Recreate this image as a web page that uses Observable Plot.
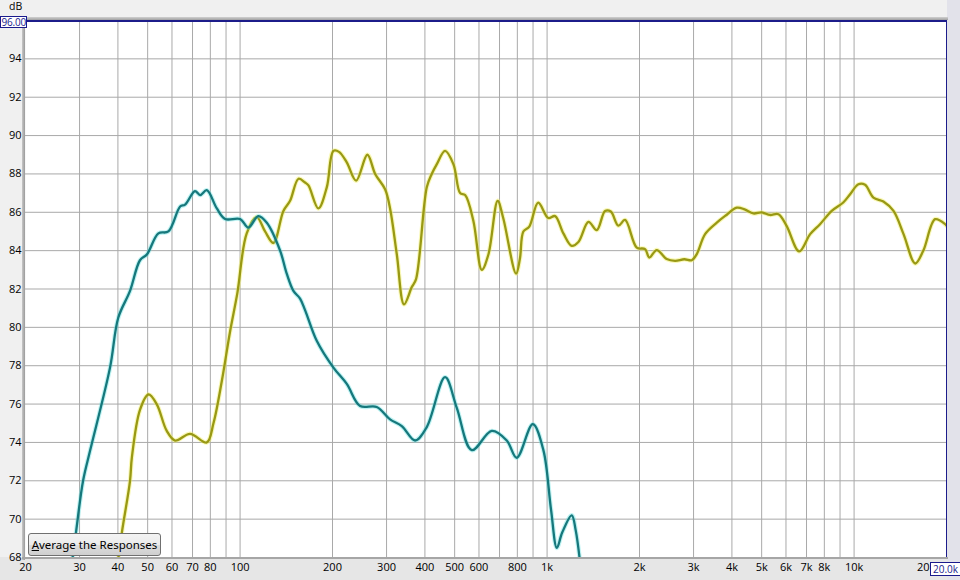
<!DOCTYPE html>
<html>
<head>
<meta charset="utf-8">
<script src="https://cdn.jsdelivr.net/npm/d3@7"></script>
<script src="https://cdn.jsdelivr.net/npm/@observablehq/plot@0.6"></script>
<style>
  html, body { margin: 0; padding: 0; background: #f0f0f0; }
  #wrap { position: relative; width: 960px; height: 580px; overflow: hidden; background: #f0f0f0; font-family: "Open Sans", sans-serif; }
  #wrap svg { position: absolute; left: 0; top: 0; }
  .deco { position: absolute; pointer-events: none; }
  #btn { position: absolute; left: 28px; top: 533px; width: 131px; height: 21px; border: 1px solid #707070; border-radius: 3px;
         background: linear-gradient(#f3f3f3 0%, #ebebeb 50%, #dddddd 51%, #cfcfcf 100%);
         font: 11.5px "Noto Sans", sans-serif; color: #000; text-align: center; line-height: 21px; box-sizing: content-box; }
  .box { position: absolute; background: #fff; border: 1px solid #1a1a8c; color: #1a1a8c; font: 10px "Open Sans", sans-serif; overflow: hidden; white-space: nowrap; }
</style>
</head>
<body>
<div id="wrap"></div>
<script>
// ---- data ----
const xTicks = [20, 30, 40, 50, 60, 70, 80, 100, 200, 300, 400, 500, 600, 800, 1000, 2000, 3000, 4000, 5000, 6000, 7000, 8000, 10000];
const xTickLabels = ["20", "30", "40", "50", "60", "70", "80", "100", "200", "300", "400", "500", "600", "800", "1k", "2k", "3k", "4k", "5k", "6k", "7k", "8k", "10k"];
const xEndTick = [20000];
const xEndLabel = ["20"];
const xGrid = [30, 40, 50, 60, 70, 80, 90, 100, 200, 300, 400, 500, 600, 700, 800, 900, 1000, 2000, 3000, 4000, 5000, 6000, 7000, 8000, 9000, 10000];
const yTicks = [68, 70, 72, 74, 76, 78, 80, 82, 84, 86, 88, 90, 92, 94];
const yGrid = [70, 72, 74, 76, 78, 80, 82, 84, 86, 88, 90, 92, 94];

// teal response (low-frequency)
const tealFreq = [28.2, 29.2, 30.8, 32.5, 37.7, 40.1, 43.8, 47.2, 49.7, 54.2, 58.4, 63.8, 66.2, 71.3, 74.1, 77.9, 84.0, 89.4, 100, 106.4, 114.7, 122.2, 135, 141.9, 149.2, 156.8, 162.8, 177.7, 201.4, 222.6, 246, 278.6, 308, 336.3, 371.5, 405.6, 465.4, 508, 568.5, 660.4, 739, 796.4, 898.4, 972.6, 1030, 1076, 1120, 1203, 1240, 1290];
const tealDb   = [67.5, 69.3, 72.0, 73.6, 77.9, 80.5, 81.9, 83.5, 83.8, 84.9, 85.0, 86.3, 86.4, 87.1, 86.9, 87.15, 86.2, 85.65, 85.65, 85.2, 85.8, 85.45, 84.0, 82.8, 81.9, 81.5, 80.9, 79.3, 77.9, 77.05, 75.9, 75.85, 75.2, 74.85, 74.1, 74.8, 77.4, 75.8, 73.6, 74.6, 74.1, 73.2, 74.95, 73.6, 70.5, 68.5, 69.3, 70.2, 69.4, 67.3];

// olive response (full range)
const oliveFreq = [39.8, 41.2, 43.8, 44.4, 47.2, 50.3, 53.5, 57.7, 61.4, 68.7, 77.9, 81.9, 87.2, 92.8, 98, 105.1, 113.3, 120.6, 128.4, 138.4, 145.5, 155, 162.8, 167, 179.9, 191.6, 201.4, 210, 222.6, 238.8, 259.8, 275.4, 296.7, 308, 324, 342, 362.5, 374, 405.6, 421, 437, 465.4, 495.5, 520.9, 540.8, 575.4, 612.7, 644, 690.3, 719.6, 792.6, 816, 837, 875, 935.6, 1009, 1062, 1130, 1203, 1265, 1364, 1452, 1545, 1613, 1707, 1795, 1959, 2085, 2153, 2276, 2453, 2612, 2800, 2960, 3073, 3271, 3571, 3802, 4150, 4400, 4699, 5002, 5324, 5670, 6028, 6626, 7194, 7745, 8459, 9220, 9706, 10330, 10860, 11560, 12460, 13440, 14490, 15820, 16800, 18370, 19790, 20000];
const oliveDb   = [67.5, 69.3, 72.0, 73.2, 75.7, 76.5, 76.0, 74.6, 74.1, 74.45, 74.0, 75.0, 77.2, 79.8, 81.8, 84.9, 85.75, 85.0, 84.4, 86.07, 86.6, 87.75, 87.55, 87.4, 86.2, 87.3, 89.2, 89.15, 88.6, 87.65, 89.0, 88.0, 87.2, 86.2, 83.8, 81.2, 82.1, 82.5, 87.3, 88.0, 88.5, 89.2, 88.5, 87.0, 86.9, 85.55, 83.0, 83.8, 86.6, 85.7, 82.8, 83.6, 85.0, 85.25, 86.5, 85.7, 85.8, 84.9, 84.25, 84.45, 85.5, 85.07, 86.07, 86.04, 85.3, 85.6, 84.16, 84.08, 83.64, 84.03, 83.56, 83.47, 83.55, 83.5, 83.82, 84.86, 85.46, 85.81, 86.24, 86.15, 85.94, 85.99, 85.86, 85.9, 85.29, 83.96, 84.86, 85.38, 86.07, 86.51, 86.94, 87.46, 87.43, 86.77, 86.56, 86.07, 84.86, 83.33, 83.99, 85.64, 85.38, 85.3];

const teal = tealFreq.map((f, i) => ({f, db: tealDb[i]}));
const olive = oliveFreq.map((f, i) => ({f, db: oliveDb[i]}));

const chart = Plot.plot({
  width: 960,
  height: 580,
  marginLeft: 25,
  marginRight: 14,
  marginTop: 20,
  marginBottom: 23,
  style: {background: "transparent", fontFamily: "Open Sans, sans-serif", fontSize: "11px", color: "#000"},
  x: {type: "log", domain: [20, 20000], axis: null},
  y: {domain: [68, 96]},
  marks: [
    Plot.frame({fill: "white", stroke: null}),
    Plot.ruleX(xGrid, {stroke: "#a9a9a9", strokeWidth: 1}),
    Plot.ruleY(yGrid, {stroke: "#a9a9a9", strokeWidth: 1}),
    Plot.line(olive, {x: "f", y: "db", stroke: "#f2f060", strokeWidth: 4.5, strokeOpacity: 0.45, curve: "catmull-rom", clip: true}),
    Plot.line(olive, {x: "f", y: "db", stroke: "#999914", strokeWidth: 2.3, curve: "catmull-rom", clip: true}),
    Plot.line(teal, {x: "f", y: "db", stroke: "#5fe0e0", strokeWidth: 4.5, strokeOpacity: 0.4, curve: "catmull-rom", clip: true}),
    Plot.line(teal, {x: "f", y: "db", stroke: "#16787c", strokeWidth: 2.3, curve: "catmull-rom", clip: true}),
    Plot.text(xTicks, {x: d => d, text: (d, i) => xTickLabels[i], frameAnchor: "bottom", lineAnchor: "top", dy: 6, fill: "#000"}),
    Plot.text(xEndTick, {x: d => d, text: (d, i) => xEndLabel[i], frameAnchor: "bottom", lineAnchor: "top", textAnchor: "end", dx: -17, dy: 6, fill: "#000"}),
    Plot.axisY(yTicks, {tickSize: 0, tickPadding: 4, label: null})
  ]
});

const wrap = document.getElementById("wrap");
function deco(css) {
  const d = document.createElement("div");
  d.className = "deco";
  d.style.cssText = css;
  wrap.appendChild(d);
  return d;
}
// bands behind the plot
deco("left:0;top:557px;width:960px;height:23px;background:#e6e6e6;");
deco("left:947px;top:0;width:13px;height:580px;background:#e2e2ea;");
wrap.appendChild(chart);

// frame shadows and borders
deco("left:22px;top:17px;width:3px;height:543px;background:linear-gradient(90deg,#c8c8c8,#9a9a9a);");
deco("left:22px;top:17px;width:926px;height:3px;background:linear-gradient(#d0d0d0,#a0a0a0);");
deco("left:22px;top:557px;width:926px;height:2px;background:#a6a6a6;");
deco("left:25px;top:20px;width:922px;height:1.5px;background:#1c1c8a;");
deco("left:945.5px;top:20px;width:1.5px;height:537px;background:#1c1c8a;");

// dB label
const db = deco("left:9px;top:1px;height:11px;font:10.5px 'Open Sans',sans-serif;line-height:11px;color:#000;");
db.textContent = "dB";

// 96.00 box
const topBox = document.createElement("div");
topBox.className = "box";
topBox.style.cssText += "left:0px;top:16px;width:25px;height:10px;line-height:10px;text-align:right;letter-spacing:-0.2px;";
topBox.textContent = "96.00";
wrap.appendChild(topBox);

// 20.0k box
const rBox = document.createElement("div");
rBox.className = "box";
rBox.style.cssText += "left:930px;top:562px;width:29px;height:12px;line-height:12px;text-align:center;";
rBox.textContent = "20.0k";
wrap.appendChild(rBox);

// button
const btn = document.createElement("div");
btn.id = "btn";
btn.innerHTML = "<u>A</u>verage the Responses";
wrap.appendChild(btn);
</script>
</body>
</html>
